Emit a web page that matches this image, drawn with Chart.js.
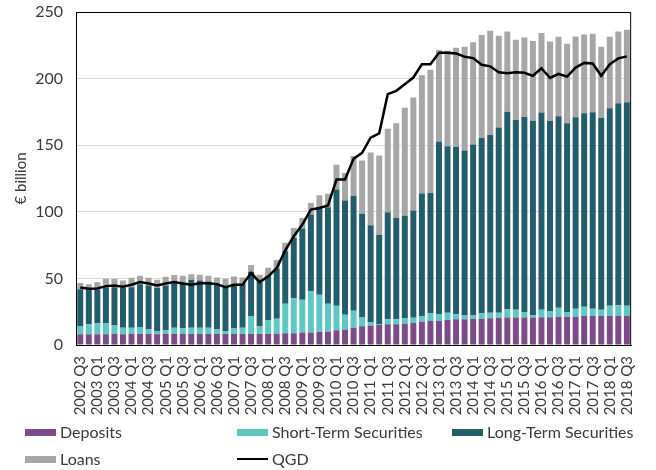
<!DOCTYPE html>
<html>
<head>
<meta charset="utf-8">
<script src="https://cdn.jsdelivr.net/npm/chart.js@4"></script>
<style>
	html, body { margin: 0; padding: 0; background: #fff; }
	#wrap { position: relative; width: 656px; height: 470px; font-family: Lato, sans-serif; color: #3a3a3a; }
	#chart { position: absolute; left: 0; top: 0; }
	.lg { position: absolute; font-size: 16px; line-height: 18px; display: flex; align-items: center; white-space: nowrap; }
	.lg .sw { width: 31px; height: 7px; margin-right: 4px; }
	.lg .ln { width: 31px; height: 2px; background: #000; margin-right: 4px; }
</style>
</head>
<body>
<div id="wrap">
	<canvas id="chart" width="656" height="470"></canvas>
	<div class="lg" style="left:25px;top:423px"><div class="sw" style="background:#7d4a88"></div>Deposits</div>
	<div class="lg" style="left:237px;top:423px"><div class="sw" style="background:#5ec7c2"></div>Short-Term Securities</div>
	<div class="lg" style="left:452px;top:423px"><div class="sw" style="background:#235c6b"></div>Long-Term Securities</div>
	<div class="lg" style="left:25px;top:450px"><div class="sw" style="background:#a6a6a6"></div>Loans</div>
	<div class="lg" style="left:237px;top:450px"><div class="ln"></div>QGD</div>
</div>
<script>
// quarters 2002 Q3 .. 2018 Q3
const quarters = [];
for (let y = 2002; y <= 2018; y++) {
	for (let q = 1; q <= 4; q++) {
		if ((y === 2002 && q < 3) || (y === 2018 && q > 3)) continue;
		quarters.push(y + " Q" + q);
	}
}

const deposits = [
	8, 8, 8, 8, 8.5, 8, 8.5, 8.5, 8.5, 8, 8.5, 8.5, 8.5, 8.3, 8.3, 8.3, 8.3, 8.3, 8.3, 8.3,
	8.3, 8.3, 8.3, 8.5, 8.8, 8.8, 9.3, 9.3, 10, 10, 11, 11.3, 13, 14, 14.6, 15, 15.5, 15.6, 16, 16.5,
	17.5, 18, 18.1, 18.8, 19.3, 19.3, 19.6, 19.6, 20, 20.3, 20.6, 20.6, 20.6, 20.6, 20.9, 20.9, 21.3, 21.3, 21.3, 21.8,
	21.8, 21.8, 21.8, 21.8, 21.8,
];
const shortTerm = [
	5.8, 7.3, 8.3, 8.3, 6.5, 5.0, 4.5, 5.0, 3.5, 2.5, 2.8, 4.5, 4.0, 4.7, 4.7, 4.7, 3.5, 2.2, 4.0, 4.7,
	13.5, 5.5, 10.5, 11.3, 22.1, 26.3, 24.7, 31.2, 27.7, 20.9, 18.4, 11.4, 12.7, 7.0, 2.2, 0.8, 3.8, 3.7, 4.1, 4.0,
	4.3, 5.9, 5.1, 5.5, 3.8, 2.8, 2.5, 4.3, 4.3, 4.0, 6.2, 5.8, 4.2, 2.0, 5.5, 4.7, 6.6, 3.5, 6.0, 7.0,
	5.5, 4.6, 7.6, 8.1, 7.6,
];
const longTerm = [
	28.1, 26.4, 25.4, 27.1, 28.4, 29.7, 30.4, 32.2, 32.7, 32.2, 33.4, 33.9, 33.7, 35.9, 35.4, 34.7, 34.6, 33.9, 33.6, 32.9,
	33.2, 35.1, 33.2, 37.4, 39.4, 45.2, 53.5, 57.4, 64.8, 72.6, 87.3, 85.7, 86.3, 77.5, 73.1, 66.8, 80.3, 76.2, 77.0, 80.4,
	91.9, 90.3, 129.6, 125.0, 125.7, 124.0, 128.5, 131.5, 133.3, 138.9, 148.4, 142.5, 146.4, 145.6, 148.1, 142.6, 143.8, 141.6, 143.6, 145.1,
	147.4, 144.0, 148.3, 151.6, 152.8,
];
const loans = [
	4.6, 4.0, 5.5, 6.3, 6.3, 5.7, 7.0, 6.3, 5.7, 6.3, 6.5, 5.6, 5.8, 4.3, 4.3, 4.3, 4.3, 5.3, 5.6, 4.8,
	5.0, 3.8, 6.0, 6.6, 6.5, 7.5, 7.9, 8.8, 10.0, 10.1, 18.6, 20.8, 29.8, 40.1, 54.6, 59.7, 62.8, 70.9, 81.1, 84.9,
	88.9, 92.4, 68.7, 71.6, 74.3, 77.8, 76.6, 77.3, 78.3, 69.0, 60.1, 60.2, 59.7, 60.0, 59.7, 59.7, 59.7, 59.7, 60.8, 59.3,
	59.0, 53.5, 53.7, 53.8, 54.5,
];
const qgd = [
	43.2, 42.2, 42.5, 44.2, 44.7, 43.7, 45.2, 47.2, 46.2, 44.7, 46.2, 47.2, 46.2, 45.2, 46.4, 46.4, 45.7, 43.4, 45.2, 45.2,
	54, 47.2, 51.5, 57.7, 71, 81.6, 90.4, 101.7, 102.9, 104.7, 124.2, 124.2, 139.8, 144.3, 155.6, 158.9, 188.3, 190.8, 195.8, 200.8,
	210.8, 210.8, 219.4, 219.4, 218.9, 216.4, 215.4, 210.4, 209.2, 204.7, 204.1, 204.7, 204.4, 202.1, 207.8, 200.5, 203.5, 201.5, 208.3, 211.8,
	211.3, 202.1, 210.8, 215.2, 216.7,
];
const yTicks = [0, 50, 100, 150, 200, 250];

const textColor = "#3a3a3a";

// draws the black box round the plot area
const frame = {
	id: "frame",
	afterDatasetsDraw(chart) {
		const { ctx, chartArea: a } = chart;
		ctx.save();
		ctx.strokeStyle = "#000";
		ctx.lineWidth = 1;
		ctx.strokeRect(a.left + 0.5, a.top + 0.5, a.right - a.left - 1, a.bottom - a.top);
		ctx.restore();
	},
};

const bar = (label, data, color) => ({
	type: "bar",
	label,
	data,
	backgroundColor: color,
	borderWidth: 0,
	categoryPercentage: 1,
	barPercentage: 0.7,
	order: 1,
	stack: "s",
});

new Chart(document.getElementById("chart"), {
	data: {
		labels: quarters,
		datasets: [
			{
				type: "line",
				label: "QGD",
				data: qgd,
				borderColor: "#000",
				borderWidth: 2.5,
				pointRadius: 0,
				tension: 0,
				order: 0,
			},
			bar("Deposits", deposits, "#7d4a88"),
			bar("Short-Term Securities", shortTerm, "#5ec7c2"),
			bar("Long-Term Securities", longTerm, "#235c6b"),
			bar("Loans", loans, "#a6a6a6"),
		],
	},
	options: {
		responsive: false,
		animation: false,
		layout: { padding: { top: 12, right: 17, bottom: 0, left: 0 } },
		plugins: { legend: { display: false }, tooltip: { enabled: false } },
		scales: {
			x: {
				stacked: true,
				grid: { display: false, drawTicks: false },
				border: { color: "#000", width: 1 },
				ticks: {
					autoSkip: false,
					minRotation: 90,
					maxRotation: 90,
					padding: 11,
					color: textColor,
					font: { family: "Lato", size: 15 },
					callback: (v, i) => (i % 2 === 0 ? quarters[i] : ""),
				},
				afterFit: (s) => { s.height = 125; },
			},
			y: {
				stacked: true,
				min: 0,
				max: 250,
				afterBuildTicks: (s) => { s.ticks = yTicks.map((v) => ({ value: v })); },
				grid: { color: "#d9d9d9", lineWidth: 1, drawTicks: false },
				border: { color: "#000", width: 1 },
				ticks: {
					padding: 13,
					color: textColor,
					font: { family: "Lato", size: 16 },
				},
				title: {
					display: true,
					text: "€ billion",
					color: textColor,
					font: { family: "Lato", size: 15 },
					padding: { top: 12, bottom: 0 },
				},
				afterFit: (s) => {
					s.width = 76;
					s.paddingTop = 0;
					s.paddingBottom = 0;
				},
			},
		},
	},
	plugins: [frame],
});
</script>
</body>
</html>
